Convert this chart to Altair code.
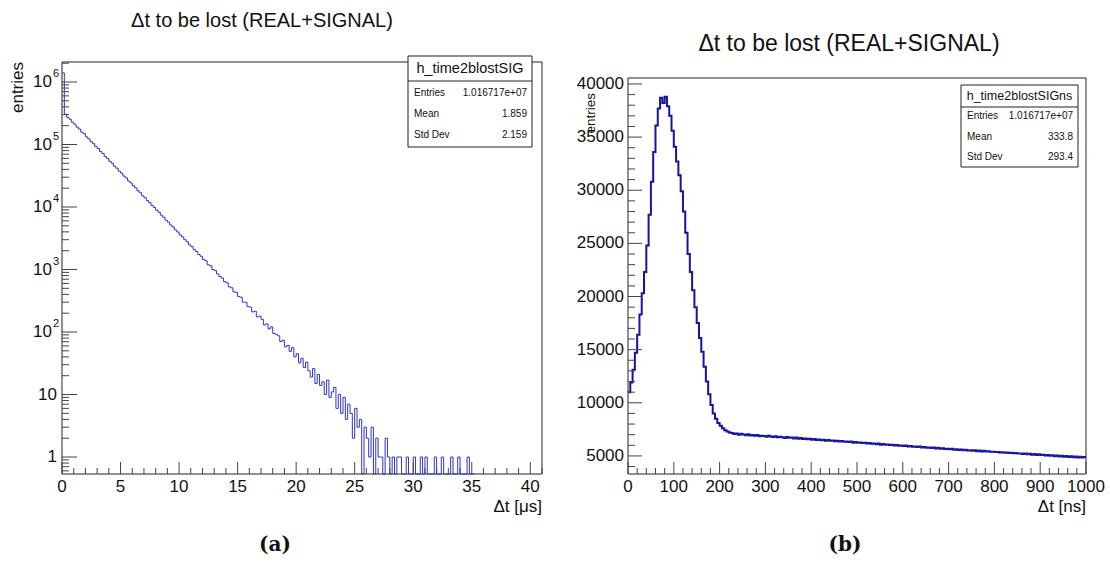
import altair as alt
import pandas as pd
import numpy as np

# ---------------- data ----------------
# (a) dt to be lost, 0.2 us bins starting at 0
a_bin = 0.2
a_counts = [
    1400000,
    305000, 271000, 254000, 228000, 212000, 190000, 177000, 158000, 149000, 133000,
    123000, 111000, 103000, 92500, 86100, 77400, 71900, 64500, 59900, 53800,
    50100, 45000, 41800, 37500, 34900, 31300, 29200, 26100, 24300, 21800,
    20300, 18200, 17000, 15100, 14100, 12700, 11800, 10600, 9850, 8870,
    8230, 7400, 6870, 6160, 5740, 5150, 4790, 4300, 3990, 3580,
    3340, 3000, 2790, 2490, 2330, 2080, 1950, 1740, 1630, 1450,
    1380, 1190, 1150, 1000, 960, 850, 770, 730, 640, 610,
    530, 510, 440, 430, 370, 360, 300, 300, 255, 250,
    210, 215, 175, 180, 160, 130, 135, 112, 121, 95,
    92, 87, 70, 74, 58, 61, 49, 56, 40, 45,
    32, 38, 27, 33, 24, 19, 26, 15, 21, 14,
    16, 10, 17, 9, 11, 13, 6, 10, 5, 9,
    4, 7, 5, 2, 6, 3, 4, 0, 3, 2,
    1, 3, 0, 2, 1, 1, 0, 2, 1, 0,
    1, 0, 1, 1, 0, 0, 1, 0, 0, 1,
    0, 0, 1, 0, 1, 0, 0, 0, 1, 0,
    0, 1, 0, 0, 0, 1, 0, 0, 1, 0,
    0, 0, 1, 0, 0,
]
# (b) dt to be lost, 5 ns bins from 0 to 1000
b_bin = 5
b_counts = [
    11000, 11900, 13100, 14700, 16400, 18300, 20300, 22300, 24800, 27700,
    30800, 33600, 36100, 37700, 38700, 38200, 38800, 37900, 37000, 35600,
    34100, 32700, 31400, 29900, 28000, 26000, 24000, 22300, 20600, 19000,
    17500, 16100, 14800, 13400, 12000, 10800, 9800, 9000, 8500, 8100,
    7850, 7600, 7420, 7300, 7200,
    7150, 7060, 7120, 6990, 7080, 7020, 6940, 7040, 6930, 6970,
    6910, 6970, 6860, 6900, 6880, 6800, 6900, 6840, 6780, 6860,
    6750, 6810, 6760, 6690, 6790, 6700, 6730, 6640, 6730, 6620,
    6690, 6600, 6630, 6570, 6620, 6520, 6600, 6510, 6550, 6480,
    6530, 6440, 6500, 6420, 6450, 6390, 6440, 6350, 6410, 6340,
    6360, 6300, 6350, 6250, 6310, 6240, 6270, 6210, 6250, 6160,
    6220, 6140, 6170, 6110, 6160, 6060, 6120, 6050, 6070, 6020,
    6060, 5970, 6030, 5960, 5980, 5930, 5970, 5880, 5940, 5870,
    5890, 5840, 5880, 5790, 5850, 5780, 5800, 5750, 5790, 5710,
    5760, 5680, 5730, 5660, 5680, 5630, 5670, 5580, 5640, 5560,
    5610, 5530, 5590, 5520, 5540, 5490, 5530, 5450, 5500, 5420,
    5480, 5410, 5430, 5390, 5400, 5360, 5380, 5330, 5350, 5300,
    5320, 5280, 5290, 5250, 5270, 5220, 5240, 5190, 5230, 5150,
    5200, 5120, 5180, 5090, 5150, 5080, 5100, 5050, 5090, 5010,
    5060, 4980, 5040, 4950, 5010, 4930, 4990, 4900, 4960, 4880,
    4940, 4860, 4920, 4850, 4890,
]

title_text = "\u0394t to be lost (REAL+SIGNAL)"
a_xtitle = "\u0394t [\u03bcs]"
b_xtitle = "\u0394t [ns]"
ytitle = "entries"
a_caption = "(a)"
b_caption = "(b)"

stat_names = ["Entries", "Mean", "Std Dev"]
a_stat_title = "h_time2blostSIG"
a_stat_vals = ["1.016717e+07", "1.859", "2.159"]
b_stat_title = "h_time2blostSIGns"
b_stat_vals = ["1.016717e+07", "333.8", "293.4"]

a_xmaj = [0, 5, 10, 15, 20, 25, 30, 35, 40]
a_xmin = [v for v in range(0, 42) if v % 5 != 0]
a_ymaj = [1, 10, 100, 1000, 10000, 100000, 1000000]
a_yexp = ["", "", "2", "3", "4", "5", "6"]
a_ymin_ticks = [0.6, 0.7, 0.8, 0.9] + [m * 10 ** k for k in range(0, 7) for m in range(2, 10)]
a_ymin_ticks = [v for v in a_ymin_ticks if v <= 2.0e6]

b_xmaj = list(range(0, 1001, 100))
b_xmin = [v for v in range(0, 1001, 20) if v % 100 != 0]
b_ymaj = list(range(5000, 40001, 5000))
b_ymin = [v for v in range(4000, 40001, 1000) if v % 5000 != 0]

# ---------------- layout constants ----------------
FONT = "Liberation Sans"
A_L, A_R, A_T, A_B = 62, 542, 62, 474
B_L, B_R, B_T, B_B = 628, 1086, 78, 474
A_YLO, A_YHI = 0.535, 2.09e6
B_YLO, B_YHI = 3300, 40560

AX = alt.Scale(domain=[0, 41], range=[A_L, A_R], nice=False, zero=False)
AY = alt.Scale(type="log", domain=[A_YLO, A_YHI], range=[A_B, A_T], nice=False)
BX = alt.Scale(domain=[0, 1000], range=[B_L, B_R], nice=False, zero=False)
BY = alt.Scale(domain=[B_YLO, B_YHI], range=[B_B, B_T], nice=False, zero=False)

# ---------------- tables ----------------
a_edges = [i * a_bin for i in range(len(a_counts))] + [len(a_counts) * a_bin]
a_vals = a_counts + [a_counts[-1]]
df_a = pd.DataFrame({"t": a_edges, "n": np.maximum(np.array(a_vals, float), A_YLO)})

b_edges = [i * b_bin for i in range(len(b_counts))] + [len(b_counts) * b_bin]
b_vals = b_counts + [b_counts[-1]]
df_b = pd.DataFrame({"t": b_edges, "n": b_vals})

one = pd.DataFrame({"k": [0]})

def tx(v, scale):
    return alt.X(v, scale=scale, axis=None)

def ty(v, scale):
    return alt.Y(v, scale=scale, axis=None)

layers = []

# frames
for (l, r, t, b) in [(A_L, A_R, A_T, A_B), (B_L, B_R, B_T, B_B)]:
    layers.append(alt.Chart(one).mark_rect(fill="white", stroke="#222", strokeWidth=1).encode(
        x=alt.value(l), x2=alt.value(r), y=alt.value(t), y2=alt.value(b)))

# histograms
layers.append(alt.Chart(df_a).mark_line(interpolate="step-after", color="#3333c8", strokeWidth=1).encode(
    x=tx("t:Q", AX), y=ty("n:Q", AY)))
layers.append(alt.Chart(df_b).mark_line(interpolate="step-after", color="#15159e", strokeWidth=2).encode(
    x=tx("t:Q", BX), y=ty("n:Q", BY)))

TICK = "#444"
def xticks(vals, scale, bottom, length):
    return alt.Chart(pd.DataFrame({"v": vals})).mark_rule(color=TICK, strokeWidth=1).encode(
        x=tx("v:Q", scale), y=alt.value(bottom), y2=alt.value(bottom - length))

def yticks(vals, scale, left, length):
    return alt.Chart(pd.DataFrame({"v": vals})).mark_rule(color=TICK, strokeWidth=1).encode(
        y=ty("v:Q", scale), x=alt.value(left), x2=alt.value(left + length))

layers += [
    xticks(a_xmaj, AX, A_B, 12), xticks(a_xmin, AX, A_B, 6),
    yticks(a_ymaj, AY, A_L, 15), yticks(a_ymin_ticks, AY, A_L, 7),
    xticks(b_xmaj, BX, B_B, 12), xticks(b_xmin, BX, B_B, 6),
    yticks(b_ymaj, BY, B_L, 14), yticks(b_ymin, BY, B_L, 7),
]

LBL = 17
# x tick labels
layers.append(alt.Chart(pd.DataFrame({"v": a_xmaj})).mark_text(
    font=FONT, fontSize=LBL, baseline="top", align="center", color="#111").encode(
    x=tx("v:Q", AX), y=alt.value(A_B + 5), text="v:Q"))
layers.append(alt.Chart(pd.DataFrame({"v": b_xmaj})).mark_text(
    font=FONT, fontSize=LBL, baseline="top", align="center", color="#111").encode(
    x=tx("v:Q", BX), y=alt.value(B_B + 5), text="v:Q"))

# y tick labels (a): plain and 10^k with superscript exponent
df_ay = pd.DataFrame({"v": a_ymaj, "e": a_yexp})
df_ay["base"] = ["1" if v == 1 else "10" for v in a_ymaj]
layers.append(alt.Chart(df_ay).transform_filter("datum.e == ''").mark_text(
    font=FONT, fontSize=LBL, baseline="middle", align="right", color="#111").encode(
    y=ty("v:Q", AY), x=alt.value(A_L - 5), text="base:N"))
layers.append(alt.Chart(df_ay).transform_filter("datum.e != ''").mark_text(
    font=FONT, fontSize=LBL, baseline="middle", align="right", color="#111").encode(
    y=ty("v:Q", AY), x=alt.value(A_L - 10), text="base:N"))
layers.append(alt.Chart(df_ay).transform_filter("datum.e != ''").mark_text(
    font=FONT, fontSize=11, baseline="middle", align="left", dy=-8, color="#111").encode(
    y=ty("v:Q", AY), x=alt.value(A_L - 9), text="e:N"))
# y tick labels (b)
layers.append(alt.Chart(pd.DataFrame({"v": b_ymaj})).mark_text(
    font=FONT, fontSize=LBL, baseline="middle", align="right", color="#111").encode(
    y=ty("v:Q", BY), x=alt.value(B_L - 4), text="v:Q"))

# axis titles
layers.append(alt.Chart(pd.DataFrame({"s": [a_xtitle]})).mark_text(
    font=FONT, fontSize=LBL, align="right", baseline="middle", color="#111").encode(
    x=alt.value(A_R), y=alt.value(507), text="s:N"))
layers.append(alt.Chart(pd.DataFrame({"s": [b_xtitle]})).mark_text(
    font=FONT, fontSize=LBL, align="right", baseline="middle", color="#111").encode(
    x=alt.value(B_R), y=alt.value(507), text="s:N"))
layers.append(alt.Chart(pd.DataFrame({"s": [ytitle]})).mark_text(
    font=FONT, fontSize=LBL, align="right", baseline="middle", angle=270, color="#111").encode(
    x=alt.value(18), y=alt.value(A_T), text="s:N"))
layers.append(alt.Chart(pd.DataFrame({"s": [ytitle]})).mark_text(
    font=FONT, fontSize=13.5, align="right", baseline="middle", angle=270, color="#111").encode(
    x=alt.value(591), y=alt.value(93), text="s:N"))

# chart titles
layers.append(alt.Chart(pd.DataFrame({"s": [title_text]})).mark_text(
    font=FONT, fontSize=20, align="center", baseline="middle", color="#111").encode(
    x=alt.value(262), y=alt.value(21), text="s:N"))
layers.append(alt.Chart(pd.DataFrame({"s": [title_text]})).mark_text(
    font=FONT, fontSize=23, align="center", baseline="middle", color="#111").encode(
    x=alt.value(849), y=alt.value(44), text="s:N"))

# captions
for cap, cx in [(a_caption, 275), (b_caption, 845)]:
    layers.append(alt.Chart(pd.DataFrame({"s": [cap]})).mark_text(
        font="DejaVu Serif", fontWeight="bold", fontSize=20, align="center", baseline="middle",
        color="#111").encode(x=alt.value(cx), y=alt.value(545), text="s:N"))

# stats boxes
def stats_box(l, r, t, div, b, title, tsize, vals, y0, y1):
    out = []
    out.append(alt.Chart(one).mark_rect(fill="white", stroke="#222", strokeWidth=1).encode(
        x=alt.value(l), x2=alt.value(r), y=alt.value(t), y2=alt.value(b)))
    out.append(alt.Chart(one).mark_rule(color="#222", strokeWidth=1).encode(
        x=alt.value(l), x2=alt.value(r), y=alt.value(div)))
    out.append(alt.Chart(pd.DataFrame({"s": [title]})).mark_text(
        font=FONT, fontSize=tsize, align="center", baseline="middle", color="#111").encode(
        x=alt.value((l + r) / 2), y=alt.value((t + div) / 2), text="s:N"))
    df = pd.DataFrame({"row": [0, 1, 2], "name": stat_names, "val": vals})
    ys = alt.Scale(domain=[0, 2], range=[y0, y1], nice=False, zero=False)
    out.append(alt.Chart(df).mark_text(font=FONT, fontSize=10, align="left", baseline="middle",
                                       color="#111").encode(
        x=alt.value(l + 6), y=ty("row:Q", ys), text="name:N"))
    out.append(alt.Chart(df).mark_text(font=FONT, fontSize=10, align="right", baseline="middle",
                                       color="#111").encode(
        x=alt.value(r - 5), y=ty("row:Q", ys), text="val:N"))
    return out

layers += stats_box(408, 532, 56, 81, 147, a_stat_title, 14.5, a_stat_vals, 93, 135)
layers += stats_box(961, 1078, 85, 107, 167, b_stat_title, 12.5, b_stat_vals, 116, 157)

chart = alt.layer(*layers).resolve_scale(x="independent", y="independent").properties(
    width=1110, height=563, padding=0,
    autosize=alt.AutoSizeParams(type="none"),
).configure_view(stroke=None)

chart.save("out.html", embed_options={"renderer": "svg", "actions": False})
